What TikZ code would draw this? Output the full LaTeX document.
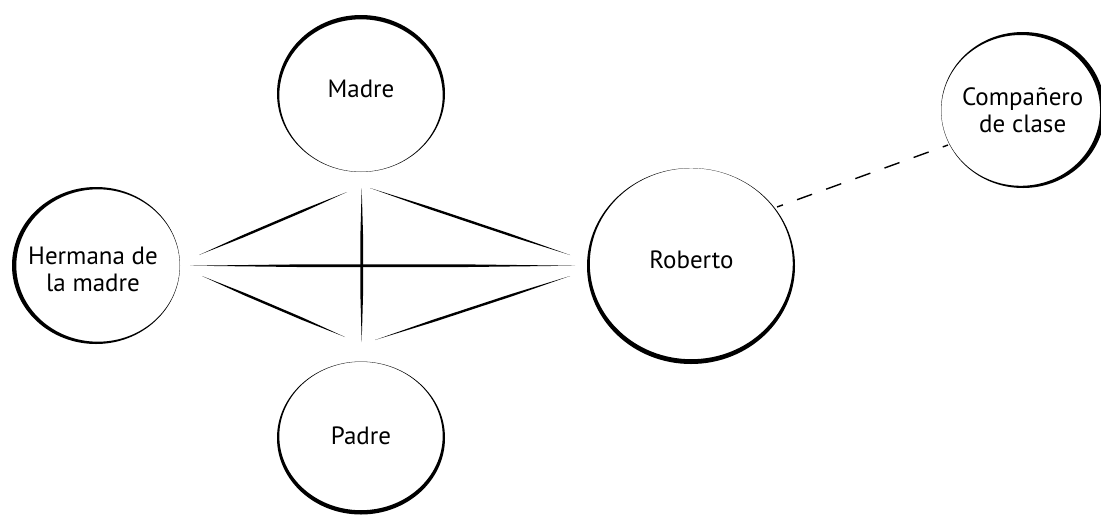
\documentclass[tikz,border=0pt]{standalone}
\usepackage{fontspec}
\setmainfont{PT Sans}
\usetikzlibrary{calc}
\newcommand\taperline[3]{%
  \fill[black] (#1) -- ($(#1)!0.3!(#2)!#3!90:(#2)$) -- ($(#1)!0.7!(#2)!#3!90:(#2)$) -- (#2)
    -- ($(#1)!0.7!(#2)!#3!-90:(#2)$) -- ($(#1)!0.3!(#2)!#3!-90:(#2)$) -- cycle;}
\newcommand\brushring[7]{% center, rx, ry, dx, dy, w
  \fill[black,even odd rule] (#1) ellipse [x radius=#2pt, y radius=#3pt]
    ($(#1)+(#4,#5)$) ellipse [x radius={#2pt-#6pt}, y radius={#3pt-#6pt}];}
\begin{document}
\begin{tikzpicture}[x=1pt,y=-1pt,
  lbl/.style={font=\fontsize{25}{27}\selectfont, inner sep=0pt, align=center},
  dashline/.style={line width=1.4pt, dash pattern=on 16pt off 15pt, dash phase=9.7pt}]
\useasboundingbox (0,0) rectangle (1101,515);
\fill[white] (0,0) rectangle (1101,515);

% ring centres
\coordinate (cM) at (361,93.5);
\coordinate (cH) at (96,265.5);
\coordinate (cP) at (361,438);
\coordinate (cR) at (691,266);
\coordinate (cC) at (1023,110);

% rings (brush strokes)
\brushring{cM}{84}{78.5}{0}{2.0}{2.3}{}
\brushring{cH}{84}{78.5}{2.0}{0}{2.3}{}
\brushring{cP}{84}{76.5}{0}{-2.0}{2.3}{}
\brushring{cR}{104}{98}{0.3}{-2.3}{2.5}{}
\brushring{cC}{82}{78}{-2.3}{0.4}{2.6}{}

% labels
\node[lbl, anchor=base] (madre) at (361,97.3) {Madre};
\node[lbl, anchor=base] (padre) at (361,444) {Padre};
\node[lbl, anchor=base] (roberto) at (691.5,268.3) {Roberto};
\node[lbl] (hermana) at (93,269.5) {Hermana de\\la madre};
\node[lbl] (comp) at (1022.7,110.6) {Compañero\\de clase};

% connector ends
\coordinate (mh1) at (347,192);   \coordinate (mh2) at (199,255);
\coordinate (mr1) at (370,188);   \coordinate (mr2) at (570,255);
\coordinate (mp1) at (361.7,188); \coordinate (mp2) at (361.7,342);
\coordinate (hr1) at (190,265.7); \coordinate (hr2) at (575,265.7);
\coordinate (hp1) at (202,276);   \coordinate (hp2) at (345,337);
\coordinate (pr1) at (375,340);   \coordinate (pr2) at (570,276);
\coordinate (rc1) at (777,207);   \coordinate (rc2) at (948,145);

\taperline{mh1}{mh2}{1.2pt}
\taperline{mr1}{mr2}{1.2pt}
\taperline{mp1}{mp2}{1.3pt}
\taperline{hr1}{hr2}{1.4pt}
\taperline{hp1}{hp2}{1.2pt}
\taperline{pr1}{pr2}{1.2pt}
\draw[dashline] (rc1) -- (rc2);
\end{tikzpicture}
\end{document}
